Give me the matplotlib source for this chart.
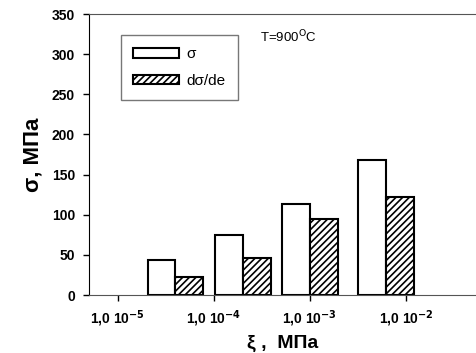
import numpy as np
import matplotlib
matplotlib.use("Agg")
import matplotlib.pyplot as plt

plt.rcParams['font.family'] = ['Liberation Sans', 'DejaVu Sans']
plt.rcParams['hatch.linewidth'] = 1.2

# group positions on the log10(xi) axis
positions = [-4.40, -3.70, -3.00, -2.21]
sigma = [44, 75, 113, 168]
dsigma_de = [23, 46, 95, 122]
tick_pos = [-5, -4, -3, -2]
tick_labels = ['1,0 10$^{\\mathbf{-5}}$', '1,0 10$^{\\mathbf{-4}}$',
               '1,0 10$^{\\mathbf{-3}}$', '1,0 10$^{\\mathbf{-2}}$']

fig = plt.figure(figsize=(4.77, 3.53), dpi=100)
ax = fig.add_axes([0.1866, 0.1643, 0.8134, 0.796])

w = 0.29
pos = np.array(positions)
ax.bar(pos - w / 2, sigma, width=w, color='white', edgecolor='black',
       linewidth=1.5, label='σ')
ax.bar(pos + w / 2, dsigma_de, width=w, color='white', edgecolor='black',
       linewidth=1.5, hatch='/////', label='dσ/de')

ax.set_xlim(-5.30, -1.26)
ax.set_ylim(0, 350)
ax.set_yticks(range(0, 351, 50))
ax.set_xticks(tick_pos)
ax.set_xticklabels(tick_labels, fontsize=10, fontweight='bold')
for lab in ax.get_yticklabels():
    lab.set_fontweight('bold')
    lab.set_fontsize(10)
ax.tick_params(axis='both', direction='out', length=4, width=1, pad=6)

ax.spines['right'].set_visible(False)
ax.spines['top'].set_color('#555555')
ax.spines['bottom'].set_color('#555555')
ax.spines['left'].set_color('black')

ax.set_ylabel('σ, МПа', fontsize=16, fontweight='bold', labelpad=6)
ax.set_xlabel('ξ ,  МПа', fontsize=14, fontweight='bold', labelpad=4)

ax.text(0.44, 0.90, 'T=900$^{\\rm O}$C', transform=ax.transAxes, fontsize=9.5)

leg = ax.legend(loc='upper left', bbox_to_anchor=(0.0825, 0.925), fontsize=11,
                handlelength=3.0, handleheight=0.55, fancybox=False,
                edgecolor='#555555', borderpad=0.8, labelspacing=0.8,
                handletextpad=0.5, borderaxespad=0)
leg.get_frame().set_linewidth(1.0)

fig.savefig('out.png', dpi=100)
